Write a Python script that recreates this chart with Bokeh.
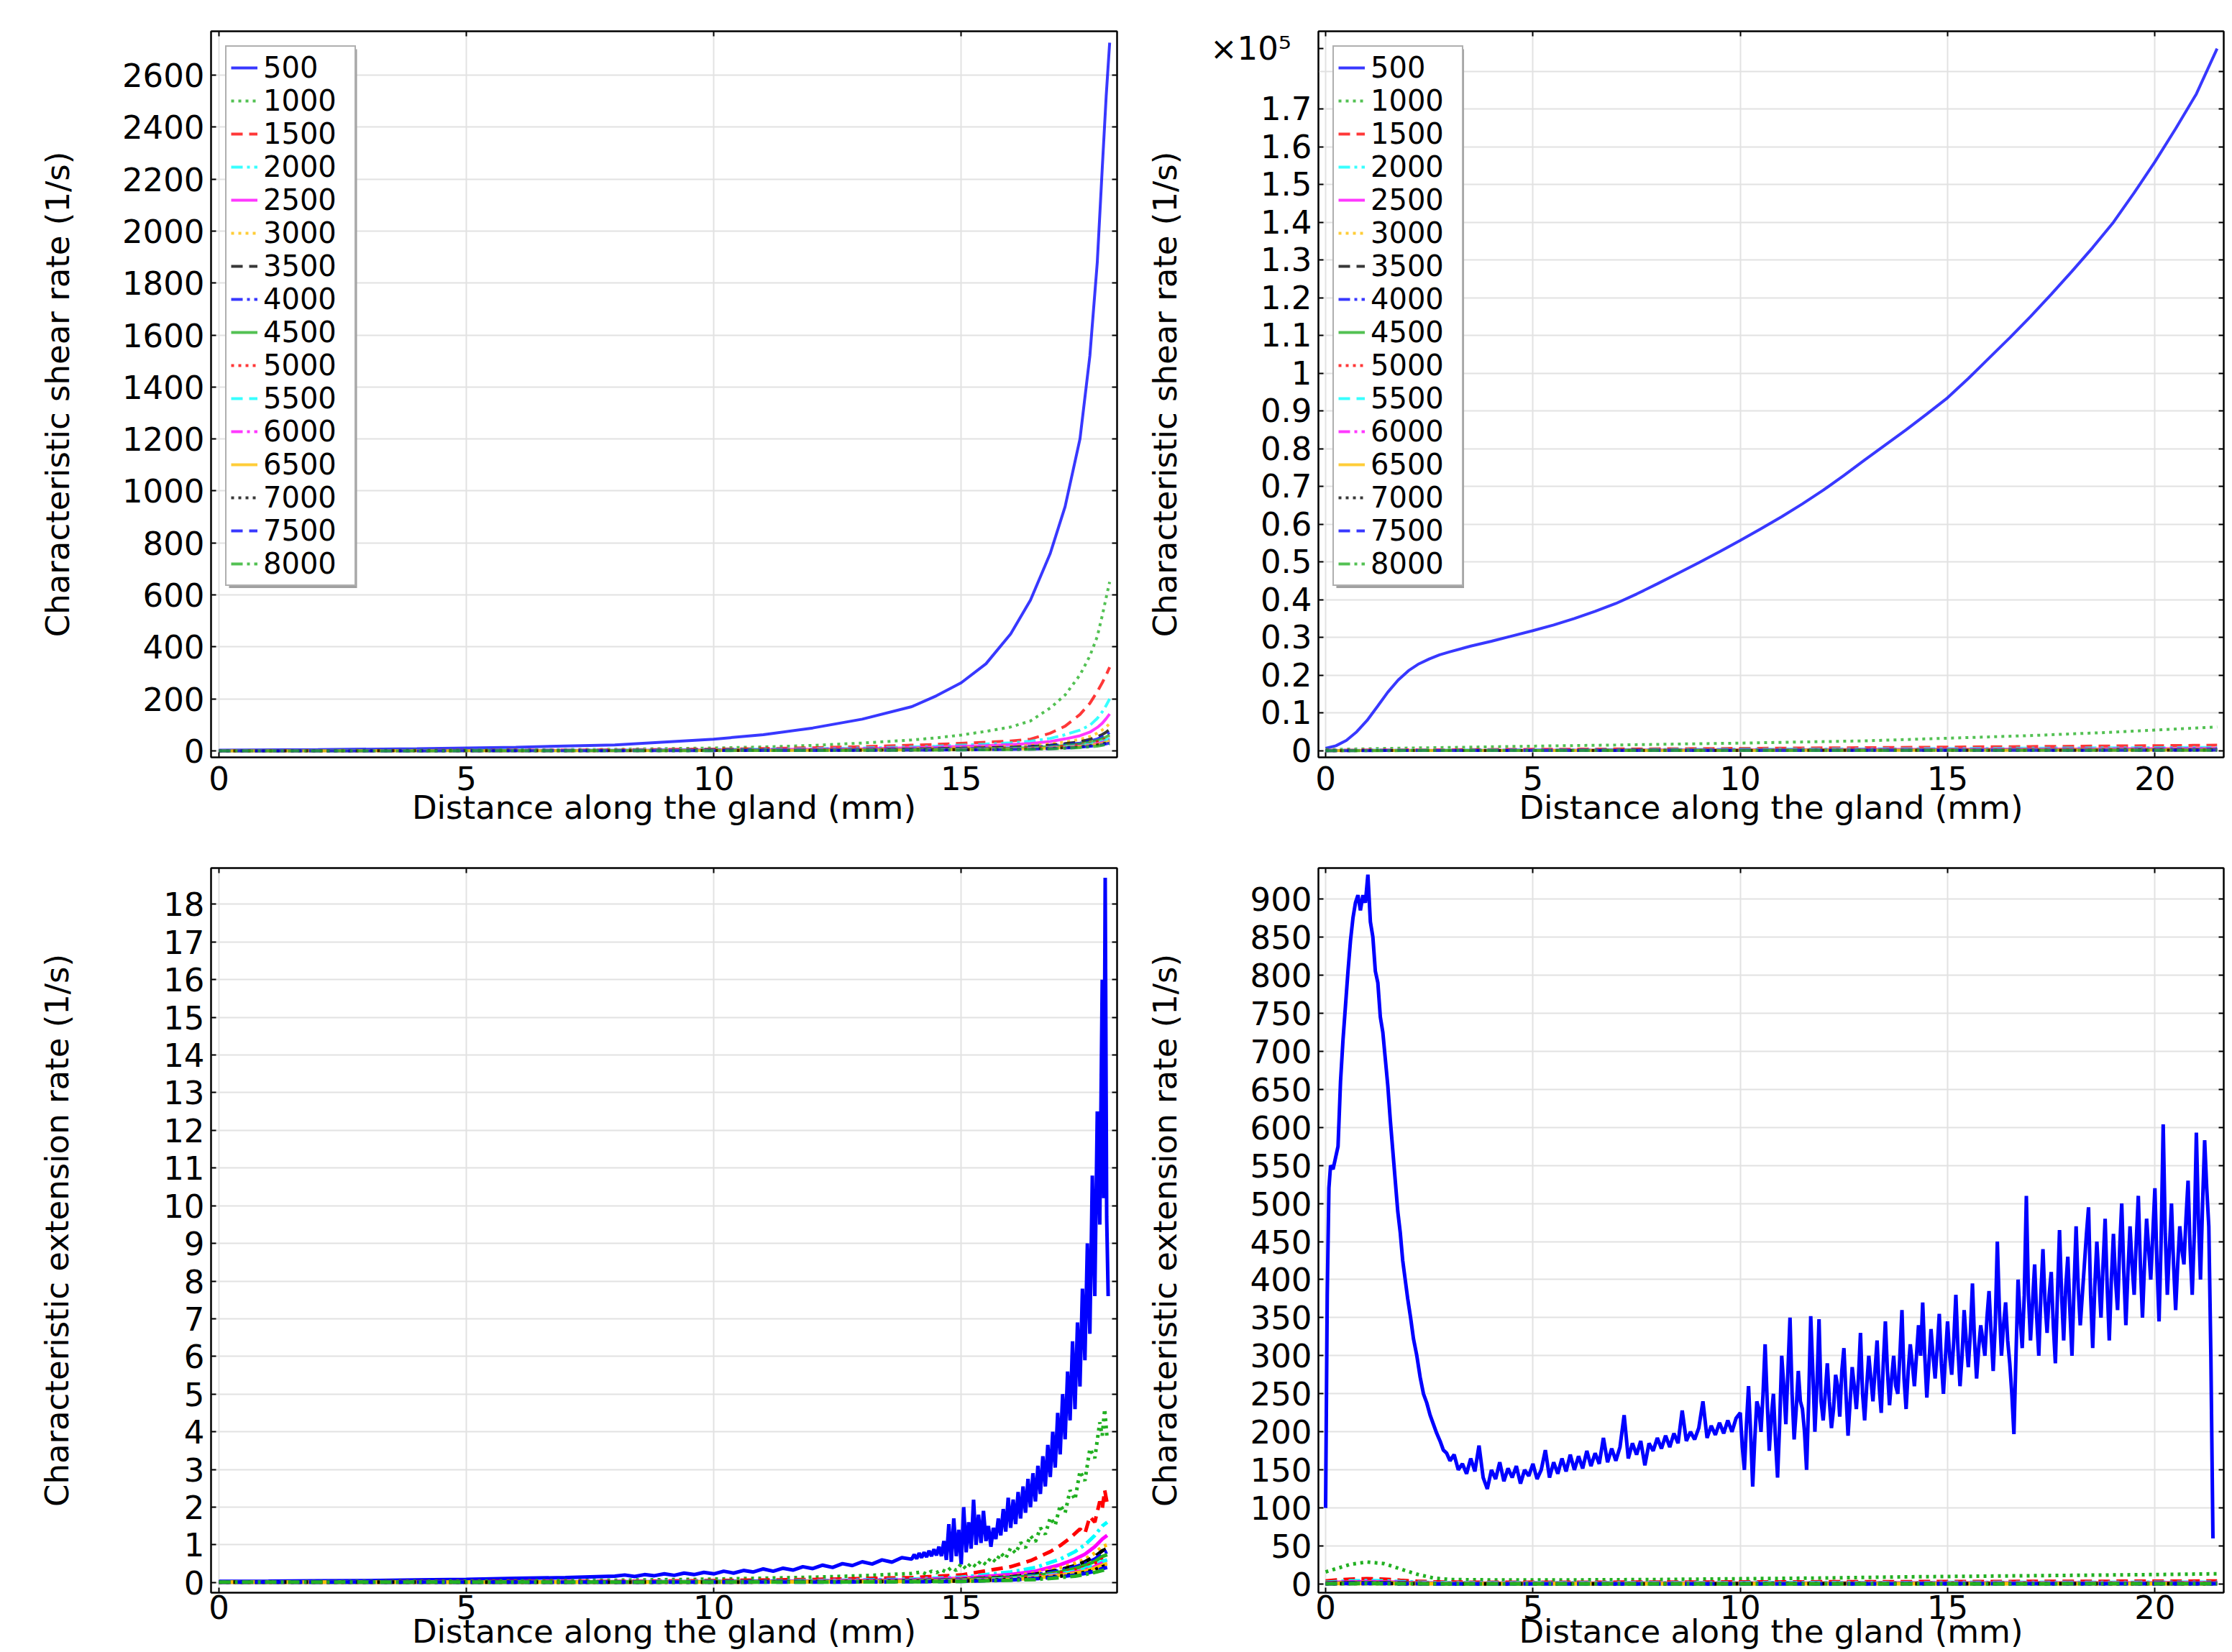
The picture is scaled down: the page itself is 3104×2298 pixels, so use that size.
from bokeh.plotting import figure
from bokeh.models import FixedTicker, LinearAxis, Range1d, Legend, LegendItem, BoxAnnotation
from bokeh.layouts import column, row
from bokeh.embed import file_html
from bokeh.resources import INLINE

FONT = "DejaVu Sans"

# ---------------- series names / tick labels ----------------
FLOWS = ["500", "1000", "1500", "2000", "2500", "3000", "3500", "4000",
         "4500", "5000", "5500", "6000", "6500", "7000", "7500", "8000"]
X_LABEL = "Distance along the gland (mm)"
SHEAR_LABEL = "Characteristic shear rate (1/s)"
EXT_LABEL = "Characteristic extension rate (1/s)"
X_TICKS_L = [0, 5, 10, 15]
X_TICKS_R = [0, 5, 10, 15, 20]
TL_Y_TICKS = [0, 200, 400, 600, 800, 1000, 1200, 1400, 1600, 1800, 2000, 2200, 2400, 2600]
TR_Y_TICKS = [0, 10000, 20000, 30000, 40000, 50000, 60000, 70000, 80000, 90000, 100000,
              110000, 120000, 130000, 140000, 150000, 160000, 170000, 180000]
TR_Y_LABELS = ["0", "0.1", "0.2", "0.3", "0.4", "0.5", "0.6", "0.7", "0.8", "0.9", "1",
               "1.1", "1.2", "1.3", "1.4", "1.5", "1.6", "1.7"]
TR_EXP_AT = 186000
TR_EXP_TEXT = "\u00d710\u2075\u00a0\u00a0"
BL_Y_TICKS = list(range(0, 19))
BR_Y_TICKS = [0, 50, 100, 150, 200, 250, 300, 350, 400, 450, 500, 550, 600, 650, 700, 750, 800, 850, 900]

# ---------------- top-left: shear rate, gland 1 ----------------
TL_X = [0, 2, 4, 6, 8, 10, 11, 12, 13, 14, 14.5, 15, 15.5, 16, 16.4, 16.8, 17.1, 17.4, 17.6, 17.75, 17.85, 17.93, 18.0]
TL_500 = [3, 5, 8, 14, 23, 45, 62, 88, 122, 170, 212, 262, 335, 450, 580, 760, 940, 1200, 1520, 1880, 2240, 2520, 2725]
TL_1000 = [1, 1.5, 2.5, 4, 6, 11, 15, 21, 30, 42, 50, 61, 75, 92, 115, 165, 215, 292, 365, 440, 520, 590, 650]
TL_1500 = [0.5, 1, 1.5, 2.5, 4, 7, 9, 12, 16, 22, 25, 29, 33, 38, 45, 68, 95, 140, 183, 228, 262, 292, 322]
TL_2000 = [0.5, 0.8, 1.2, 2, 3, 5, 6.5, 8.5, 11, 15, 18, 22, 26, 31, 37, 48, 62, 80, 98, 125, 150, 175, 200]
TL_2500 = [0.4, 0.6, 1, 1.5, 2.3, 4, 5, 6.5, 8.5, 11.5, 14, 17, 20, 24, 28, 36, 46, 58, 72, 90, 106, 124, 142]
TL_3000 = [0.3, 0.5, 0.8, 1.2, 1.8, 3, 4, 5, 6.5, 9, 10.5, 12.5, 15, 18, 21, 27, 34, 44, 55, 68, 80, 92, 105]
TL_3500 = [0.3, 0.4, 0.6, 1, 1.5, 2.5, 3.2, 4, 5.2, 7, 8.5, 10, 12, 14, 17, 22, 28, 35, 44, 54, 63, 72, 82]
TL_4000 = [0.2, 0.4, 0.5, 0.8, 1.3, 2.1, 2.7, 3.4, 4.4, 6, 7.2, 8.5, 10, 12, 14.5, 19, 24, 30, 38, 46, 54, 62, 70]
TL_4500 = [0.2, 0.3, 0.5, 0.7, 1.1, 1.8, 2.3, 3, 3.8, 5.2, 6.2, 7.3, 8.6, 10.3, 12.5, 16.5, 21, 26, 33, 40, 47, 54, 61]
TL_5000 = [0.2, 0.3, 0.4, 0.6, 1, 1.6, 2, 2.6, 3.3, 4.5, 5.4, 6.4, 7.6, 9, 11, 14.5, 18.5, 23, 29, 35, 41, 47, 53]
TL_5500 = [0.1, 0.2, 0.4, 0.6, 0.9, 1.4, 1.8, 2.3, 3, 4, 4.8, 5.7, 6.7, 8, 9.8, 13, 16.5, 20.5, 26, 31, 36, 42, 47]
TL_6000 = [0.1, 0.2, 0.3, 0.5, 0.8, 1.3, 1.6, 2.1, 2.7, 3.6, 4.3, 5.1, 6, 7.2, 8.8, 11.6, 14.8, 18.5, 23, 28, 33, 37, 42]
TL_6500 = [0.1, 0.2, 0.3, 0.5, 0.7, 1.1, 1.4, 1.9, 2.4, 3.2, 3.9, 4.6, 5.4, 6.5, 7.9, 10.4, 13.3, 16.6, 21, 25, 29, 33, 38]
TL_7000 = [0.1, 0.2, 0.3, 0.4, 0.7, 1, 1.3, 1.7, 2.2, 2.9, 3.5, 4.1, 4.9, 5.9, 7.1, 9.4, 12, 15, 19, 22.5, 26, 30, 34]
TL_7500 = [0.1, 0.1, 0.2, 0.4, 0.6, 0.9, 1.2, 1.5, 2, 2.6, 3.1, 3.7, 4.4, 5.3, 6.4, 8.5, 10.8, 13.5, 17, 20, 23.5, 27, 30]
TL_8000 = [0.1, 0.1, 0.2, 0.3, 0.5, 0.8, 1.1, 1.4, 1.8, 2.4, 2.8, 3.4, 4, 4.8, 5.8, 7.7, 9.8, 12.2, 15.4, 18, 21, 24.5, 27]

# ---------------- top-right: shear rate, gland 2 (1/s) ----------------
TR_X = [0, 0.25, 0.5, 0.75, 1.0, 1.25, 1.5, 1.75, 2.0, 2.25, 2.5, 2.75, 3.0, 3.5, 4.0, 4.5, 5.0, 5.5,
        6.0, 6.5, 7.0, 7.5, 8.0, 8.5, 9.0, 9.5, 10.0, 10.5, 11.0, 11.5, 12.0, 12.5, 13.0, 13.5, 14.0,
        14.5, 15.0, 15.5, 16.0, 16.5, 17.0, 17.5, 18.0, 18.5, 19.0, 19.5, 20.0, 20.5, 21.0, 21.5]
TR_500 = [600, 1300, 2700, 5000, 8000, 11700, 15500, 18700, 21200, 23000, 24300, 25400, 26200, 27700,
          29000, 30400, 31800, 33300, 35000, 36900, 39000, 41500, 44200, 47000, 49800, 52700, 55700,
          58800, 62000, 65400, 69000, 72900, 77000, 81000, 85000, 89200, 93500, 98600, 104000, 109400,
          115000, 120900, 127000, 133300, 140000, 147800, 156000, 164800, 174000, 186000]
TR_XS = [0, 1, 2, 3, 5, 7, 10, 13, 15, 17, 19, 21.5]
TR_1000 = [300, 500, 700, 850, 1200, 1500, 2000, 2600, 3300, 4000, 4900, 6300]
TR_1500 = [100, 180, 220, 250, 350, 450, 600, 800, 950, 1100, 1250, 1450]
TR_2000 = [60, 110, 130, 150, 210, 270, 360, 480, 570, 660, 750, 870]
TR_2500 = [40, 75, 90, 100, 140, 180, 240, 320, 380, 440, 500, 580]
TR_3000 = [30, 55, 65, 75, 105, 135, 180, 240, 285, 330, 375, 435]
TR_3500 = [25, 45, 50, 60, 85, 110, 145, 190, 230, 265, 300, 350]
TR_4000 = [20, 35, 42, 50, 70, 90, 120, 160, 190, 220, 250, 290]
TR_4500 = [18, 30, 36, 42, 60, 76, 100, 135, 160, 185, 210, 245]
TR_5000 = [16, 27, 32, 37, 52, 66, 88, 117, 139, 161, 183, 213]
TR_5500 = [14, 24, 28, 33, 46, 58, 78, 103, 122, 141, 161, 187]
TR_6000 = [12, 21, 25, 29, 41, 52, 69, 91, 108, 125, 142, 166]
TR_6500 = [11, 19, 22, 26, 36, 46, 61, 81, 96, 111, 127, 148]
TR_7000 = [10, 17, 20, 23, 32, 41, 55, 72, 86, 99, 113, 132]
TR_7500 = [9, 15, 18, 21, 29, 37, 49, 65, 77, 89, 102, 119]
TR_8000 = [8, 14, 16, 19, 26, 33, 44, 58, 70, 80, 92, 107]

# ---------------- bottom-left: extension rate, gland 1 ----------------
BL_X_500 = [0, 1, 2, 3, 4, 5, 6, 7, 8,
            8.2, 8.4, 8.6, 8.8, 9.0, 9.2, 9.4, 9.6, 9.8, 10.0, 10.2, 10.4, 10.6, 10.8, 11.0, 11.2,
            11.4, 11.6, 11.8, 12.0, 12.2, 12.4, 12.6, 12.8, 13.0, 13.2, 13.4, 13.6, 13.8,
            14.00, 14.05, 14.10, 14.15, 14.20, 14.25, 14.30, 14.35, 14.40, 14.45, 14.50, 14.55,
            14.60, 14.65, 14.70, 14.75, 14.80, 14.85, 14.90, 14.95, 15.00, 15.05, 15.10, 15.15,
            15.20, 15.25, 15.30, 15.35, 15.40, 15.45, 15.50, 15.55, 15.60, 15.65, 15.70, 15.75,
            15.80, 15.85, 15.90, 15.95, 16.00, 16.05, 16.10, 16.15, 16.20, 16.25, 16.30, 16.35,
            16.40, 16.45, 16.50, 16.55, 16.60, 16.65, 16.70, 16.75, 16.80, 16.85, 16.90, 16.95,
            17.00, 17.05, 17.10, 17.15, 17.20, 17.25, 17.30, 17.35, 17.40, 17.45, 17.50, 17.55,
            17.60, 17.65, 17.70, 17.75, 17.80, 17.85, 17.88, 17.91, 17.94, 17.97]
BL_500 = [0.03, 0.035, 0.045, 0.05, 0.07, 0.085, 0.11, 0.13, 0.17,
          0.20, 0.16, 0.21, 0.18, 0.23, 0.19, 0.25, 0.21, 0.27, 0.23, 0.30, 0.25, 0.32, 0.28, 0.36, 0.30,
          0.38, 0.33, 0.42, 0.37, 0.46, 0.40, 0.50, 0.45, 0.55, 0.49, 0.60, 0.54, 0.66,
          0.62, 0.74, 0.63, 0.78, 0.66, 0.80, 0.68, 0.84, 0.70, 0.88, 0.72, 0.95,
          0.70, 1.10, 0.60, 1.55, 0.55, 1.70, 0.70, 1.40, 0.48, 2.00, 0.80, 1.60,
          0.90, 2.20, 1.00, 1.80, 1.05, 1.90, 1.10, 1.50, 0.95, 1.45, 1.15, 1.70,
          1.25, 1.95, 1.35, 2.25, 1.45, 2.20, 1.55, 2.40, 1.70, 2.55, 1.85, 2.75,
          2.00, 2.90, 2.15, 3.10, 2.35, 3.35, 2.55, 3.65, 2.80, 4.00, 3.05, 4.50,
          3.40, 5.00, 3.80, 5.60, 4.30, 6.40, 4.60, 6.90, 5.20, 7.80, 5.90, 9.00,
          6.60, 10.80, 7.60, 12.50, 9.50, 16.00, 10.20, 18.70, 9.70, 7.60]
BL_X_1000 = [0, 2, 4, 6, 8, 10, 12, 13, 14, 14.2, 14.3, 14.4, 14.5, 14.6, 14.7, 14.8, 14.9, 15.0,
             15.1, 15.2, 15.3, 15.4, 15.5, 15.6, 15.7, 15.8, 15.9, 16.0, 16.1, 16.2, 16.3, 16.4,
             16.5, 16.6, 16.7, 16.8, 16.9, 17.0, 17.1, 17.2, 17.3, 17.4, 17.5, 17.6, 17.7, 17.8,
             17.85, 17.9, 17.95]
BL_1000 = [0.01, 0.02, 0.03, 0.04, 0.06, 0.09, 0.14, 0.18, 0.24, 0.28, 0.22, 0.30, 0.26, 0.34, 0.28,
           0.40, 0.32, 0.50, 0.36, 0.52, 0.42, 0.58, 0.48, 0.66, 0.55, 0.78, 0.64, 0.92, 0.78, 1.06,
           0.92, 1.24, 1.08, 1.45, 1.28, 1.72, 1.52, 2.05, 1.85, 2.45, 2.20, 2.95, 2.70, 3.55, 3.30,
           4.25, 3.90, 4.60, 3.80]
BL_X_1500 = [0, 4, 8, 10, 12, 14, 15, 16, 16.2, 16.4, 16.6, 16.8, 17.0, 17.2, 17.4, 17.5, 17.6,
             17.7, 17.8, 17.85, 17.9, 17.95]
BL_1500 = [0.01, 0.02, 0.03, 0.05, 0.08, 0.13, 0.20, 0.42, 0.50, 0.58, 0.70, 0.82, 0.98, 1.18,
           1.42, 1.30, 1.75, 1.60, 2.15, 1.95, 2.45, 2.10]
BL_XS = [0, 4, 8, 10, 12, 14, 15, 16, 16.5, 17, 17.3, 17.5, 17.7, 17.85, 17.95]
BL_2000 = [0.01, 0.01, 0.02, 0.03, 0.05, 0.09, 0.14, 0.28, 0.40, 0.62, 0.82, 1.00, 1.25, 1.50, 1.60]
BL_2500 = [0.01, 0.01, 0.02, 0.02, 0.04, 0.07, 0.11, 0.21, 0.30, 0.47, 0.62, 0.75, 0.95, 1.15, 1.25]
BL_3000 = [0.01, 0.01, 0.01, 0.02, 0.03, 0.06, 0.09, 0.17, 0.25, 0.39, 0.51, 0.62, 0.78, 0.95, 1.00]
BL_3500 = [0.01, 0.01, 0.01, 0.02, 0.03, 0.05, 0.08, 0.15, 0.22, 0.34, 0.45, 0.55, 0.69, 0.84, 0.90]
BL_4000 = [0.01, 0.01, 0.01, 0.02, 0.03, 0.05, 0.07, 0.14, 0.20, 0.31, 0.41, 0.50, 0.62, 0.76, 0.82]
BL_4500 = [0.01, 0.01, 0.01, 0.02, 0.02, 0.04, 0.07, 0.13, 0.18, 0.28, 0.37, 0.45, 0.56, 0.69, 0.74]
BL_5000 = [0.01, 0.01, 0.01, 0.01, 0.02, 0.04, 0.06, 0.11, 0.16, 0.25, 0.33, 0.40, 0.50, 0.61, 0.66]
BL_5500 = [0.01, 0.01, 0.01, 0.01, 0.02, 0.04, 0.05, 0.10, 0.15, 0.23, 0.30, 0.37, 0.46, 0.56, 0.60]
BL_6000 = [0.01, 0.01, 0.01, 0.01, 0.02, 0.03, 0.05, 0.09, 0.13, 0.21, 0.27, 0.33, 0.42, 0.51, 0.55]
BL_6500 = [0.01, 0.01, 0.01, 0.01, 0.02, 0.03, 0.04, 0.08, 0.12, 0.19, 0.25, 0.30, 0.38, 0.46, 0.50]
BL_7000 = [0.01, 0.01, 0.01, 0.01, 0.02, 0.03, 0.04, 0.08, 0.11, 0.17, 0.22, 0.27, 0.34, 0.42, 0.45]
BL_7500 = [0.01, 0.01, 0.01, 0.01, 0.01, 0.02, 0.03, 0.07, 0.10, 0.15, 0.20, 0.24, 0.30, 0.37, 0.40]
BL_8000 = [0.01, 0.01, 0.01, 0.01, 0.01, 0.02, 0.03, 0.06, 0.08, 0.13, 0.17, 0.21, 0.27, 0.32, 0.35]

# ---------------- bottom-right: extension rate, gland 2 ----------------
BR_XA = [0.0, 0.04, 0.08, 0.12, 0.18, 0.24, 0.3, 0.36, 0.42, 0.48, 0.54, 0.6, 0.66, 0.72, 0.78,
         0.84, 0.9, 0.96, 1.02, 1.08, 1.14, 1.2, 1.26, 1.32, 1.38, 1.44, 1.5, 1.56, 1.62, 1.68,
         1.74, 1.8, 1.86, 1.92, 1.98, 2.05, 2.12, 2.2, 2.28, 2.36, 2.44, 2.52, 2.6, 2.68, 2.76,
         2.84, 2.92, 3.0, 3.1, 3.2, 3.3, 3.4]
BR_YA = [100, 380, 520, 550, 545, 560, 575, 660, 715, 760, 805, 845, 875, 895, 905,
         885, 905, 895, 932, 870, 850, 805, 790, 745, 725, 690, 655, 610, 570, 530,
         490, 462, 425, 400, 375, 350, 322, 300, 272, 250, 238, 222, 210, 198, 188,
         176, 172, 162, 170, 150, 158, 145]
BR_XB = [3.5, 3.6, 3.7, 3.8, 3.9, 4.0, 4.1, 4.2, 4.3, 4.4, 4.5, 4.6, 4.7, 4.8, 4.9,
         5.0, 5.1, 5.2, 5.3, 5.4, 5.5, 5.6, 5.7, 5.8, 5.9, 6.0, 6.1, 6.2, 6.3, 6.4, 6.5, 6.6, 6.7, 6.8, 6.9,
         7.0, 7.1, 7.2, 7.3, 7.4, 7.5, 7.6, 7.7, 7.8, 7.9, 8.0, 8.1, 8.2, 8.3, 8.4, 8.5, 8.6, 8.7, 8.8, 8.9,
         9.0, 9.1, 9.2, 9.3, 9.4, 9.5, 9.6, 9.7, 9.8, 9.9]
BR_YB = [165, 148, 182, 140, 125, 150, 138, 160, 135, 152, 140, 155, 132, 150, 142,
         158, 138, 150, 176, 140, 160, 145, 165, 148, 170, 150, 168, 152, 175, 155, 172, 158, 192, 160, 178,
         162, 180, 222, 165, 185, 170, 188, 156, 185, 175, 192, 178, 195, 180, 198, 185, 228, 188, 200, 190,
         205, 240, 192, 208, 196, 212, 198, 215, 200, 218]
BR_XC = [10.00, 10.05, 10.10, 10.15, 10.20, 10.25, 10.30, 10.35, 10.40, 10.45,
         10.50, 10.55, 10.60, 10.65, 10.70, 10.75, 10.80, 10.85, 10.90, 10.95,
         11.00, 11.05, 11.10, 11.15, 11.20, 11.25, 11.30, 11.35, 11.40, 11.45,
         11.50, 11.55, 11.60, 11.65, 11.70, 11.75, 11.80, 11.85, 11.90, 11.95,
         12.00, 12.05, 12.10, 12.15, 12.20, 12.25, 12.30, 12.35, 12.40, 12.45,
         12.50, 12.55, 12.60, 12.65, 12.70, 12.75, 12.80, 12.85, 12.90, 12.95,
         13.00, 13.05, 13.10, 13.15, 13.20, 13.25, 13.30, 13.35, 13.40, 13.45,
         13.50, 13.55, 13.60, 13.65, 13.70, 13.75, 13.80, 13.85, 13.90, 13.95,
         14.00, 14.05, 14.10, 14.15, 14.20, 14.25, 14.30, 14.35, 14.40, 14.45,
         14.50, 14.55, 14.60, 14.65, 14.70, 14.75, 14.80, 14.85, 14.90, 14.95,
         15.00, 15.05, 15.10, 15.15, 15.20, 15.25, 15.30, 15.35, 15.40, 15.45,
         15.50, 15.55, 15.60, 15.65, 15.70, 15.75, 15.80, 15.85, 15.90, 15.95,
         16.00, 16.05, 16.10, 16.15, 16.20, 16.25, 16.30, 16.35, 16.40, 16.45,
         16.50, 16.55, 16.60, 16.65, 16.70, 16.75, 16.80, 16.85, 16.90, 16.95,
         17.00, 17.05, 17.10, 17.15, 17.20, 17.25, 17.30, 17.35, 17.40, 17.45,
         17.50, 17.55, 17.60, 17.65, 17.70, 17.75, 17.80, 17.85, 17.90, 17.95,
         18.00, 18.05, 18.10, 18.15, 18.20, 18.25, 18.30, 18.35, 18.40, 18.45,
         18.50, 18.55, 18.60, 18.65, 18.70, 18.75, 18.80, 18.85, 18.90, 18.95,
         19.00, 19.05, 19.10, 19.15, 19.20, 19.25, 19.30, 19.35, 19.40, 19.45,
         19.50, 19.55, 19.60, 19.65, 19.70, 19.75, 19.80, 19.85, 19.90, 19.95,
         20.00, 20.05, 20.10, 20.15, 20.20, 20.25, 20.30, 20.35, 20.40, 20.45,
         20.50, 20.55, 20.60, 20.65, 20.70, 20.75, 20.80, 20.85, 20.90, 20.95,
         21.00, 21.05, 21.10, 21.15, 21.20, 21.25, 21.30, 21.35, 21.40]
BR_YC = [225, 180, 150, 210, 260, 200, 128, 190, 240, 230, 200, 250, 315, 240, 175, 220, 250, 190, 140, 210,
         300, 260, 210, 280, 350, 250, 190, 230, 280, 240, 230, 200, 150, 240, 352, 280, 200, 260, 348, 240,
         215, 250, 290, 240, 205, 230, 275, 260, 220, 280, 310, 250, 195, 240, 285, 260, 230, 270, 330, 250,
         215, 260, 300, 270, 240, 280, 320, 260, 225, 290, 345, 280, 235, 270, 300, 260, 250, 300, 360, 270,
         230, 280, 315, 290, 260, 300, 340, 300, 370, 300, 245, 290, 335, 300, 270, 310, 355, 290, 250, 300,
         345, 300, 275, 320, 380, 310, 260, 300, 360, 320, 285, 330, 395, 320, 270, 310, 340, 320, 300, 350,
         385, 330, 280, 340, 450, 360, 300, 340, 370, 320, 290, 250, 197, 300, 400, 350, 310, 380, 510, 380,
         320, 370, 420, 350, 300, 380, 440, 370, 330, 380, 410, 340, 290, 380, 465, 380, 320, 390, 430, 360,
         300, 390, 470, 390, 340, 380, 420, 460, 495, 380, 310, 390, 450, 400, 350, 420, 480, 390, 320, 400,
         460, 400, 360, 440, 500, 410, 340, 410, 470, 420, 380, 450, 510, 420, 350, 420, 480, 440, 400, 460,
         520, 420, 345, 450, 604, 460, 380, 440, 500, 420, 360, 420, 470, 440, 420, 480, 530, 440, 380, 460,
         593, 480, 400, 500, 583, 520, 470, 300, 60]
BR_XS = [0, 0.3, 0.6, 1.0, 1.4, 1.8, 2.2, 2.6, 3.0, 4, 6, 8, 10, 12, 14, 16, 18, 20, 21.5]
BR_1000 = [16, 21, 26, 29, 27, 20, 13, 8, 6, 5.5, 5.5, 6, 7, 8, 9.5, 10.5, 11.5, 12.5, 13.5]
BR_1500 = [4, 5.5, 6.5, 7, 6.5, 5, 3.8, 3, 2.6, 2.4, 2.4, 2.6, 2.8, 3.0, 3.2, 3.4, 3.6, 3.8, 4.0]
BR_2000 = [2.5, 3.5, 4.2, 4.5, 4.2, 3.3, 2.5, 2.0, 1.7, 1.6, 1.6, 1.7, 1.8, 1.9, 2.0, 2.1, 2.2, 2.3, 2.4]
BR_2500 = [1.8, 2.4, 2.9, 3.1, 2.9, 2.3, 1.8, 1.4, 1.2, 1.1, 1.1, 1.2, 1.3, 1.3, 1.4, 1.5, 1.5, 1.6, 1.7]
BR_3000 = [1.4, 1.9, 2.2, 2.4, 2.2, 1.8, 1.4, 1.1, 1.0, 0.9, 0.9, 1.0, 1.0, 1.1, 1.1, 1.2, 1.2, 1.3, 1.3]
BR_3500 = [1.2, 1.6, 1.8, 2.0, 1.8, 1.5, 1.2, 0.9, 0.8, 0.8, 0.8, 0.8, 0.9, 0.9, 0.9, 1.0, 1.0, 1.1, 1.1]
BR_4000 = [1.0, 1.3, 1.5, 1.7, 1.5, 1.3, 1.0, 0.8, 0.7, 0.7, 0.7, 0.7, 0.7, 0.8, 0.8, 0.8, 0.9, 0.9, 0.9]
BR_4500 = [0.9, 1.1, 1.3, 1.4, 1.3, 1.1, 0.9, 0.7, 0.6, 0.6, 0.6, 0.6, 0.6, 0.7, 0.7, 0.7, 0.8, 0.8, 0.8]
BR_5000 = [0.8, 1.0, 1.1, 1.2, 1.1, 1.0, 0.8, 0.6, 0.5, 0.5, 0.5, 0.5, 0.6, 0.6, 0.6, 0.6, 0.7, 0.7, 0.7]
BR_5500 = [0.7, 0.9, 1.0, 1.1, 1.0, 0.9, 0.7, 0.5, 0.5, 0.4, 0.4, 0.5, 0.5, 0.5, 0.5, 0.6, 0.6, 0.6, 0.6]
BR_6000 = [0.6, 0.8, 0.9, 1.0, 0.9, 0.8, 0.6, 0.5, 0.4, 0.4, 0.4, 0.4, 0.4, 0.5, 0.5, 0.5, 0.5, 0.5, 0.6]
BR_6500 = [0.6, 0.7, 0.8, 0.9, 0.8, 0.7, 0.5, 0.4, 0.4, 0.4, 0.4, 0.4, 0.4, 0.4, 0.4, 0.5, 0.5, 0.5, 0.5]
BR_7000 = [0.5, 0.6, 0.7, 0.8, 0.7, 0.6, 0.5, 0.4, 0.3, 0.3, 0.3, 0.3, 0.4, 0.4, 0.4, 0.4, 0.4, 0.4, 0.5]
BR_7500 = [0.5, 0.6, 0.7, 0.7, 0.7, 0.6, 0.4, 0.3, 0.3, 0.3, 0.3, 0.3, 0.3, 0.3, 0.4, 0.4, 0.4, 0.4, 0.4]
BR_8000 = [0.4, 0.5, 0.6, 0.7, 0.6, 0.5, 0.4, 0.3, 0.3, 0.3, 0.3, 0.3, 0.3, 0.3, 0.3, 0.3, 0.4, 0.4, 0.4]

# ---------------- styles ----------------
COLORS = ["#0000ff", "#22b022", "#ff0000", "#00ffff", "#ff00ff", "#ffbf00", "#000000", "#0000ff",
          "#22b022", "#ff0000", "#00ffff", "#ff00ff", "#ffbf00", "#000000", "#0000ff", "#22b022"]
DASHES = ["solid", "4 6", "16 9", "16 6 4 6"] * 4
TICK_FONT = "45px"
LABEL_FONT = "45px"
LEG_FONT = "40px"
LEG_MARGIN, LEG_PAD, LEG_LABEL_W, SHADOW = 20, 6, 121, 5
LEG_W = 2 * LEG_PAD + 37 + 8 + LEG_LABEL_W
LEG_H = 2 * LEG_PAD + 16 * 46.1


def style_axis(ax, show_labels, standoff):
    ax.axis_line_color = "black"
    ax.axis_line_width = 2
    ax.major_tick_in = 7
    ax.major_tick_out = 0
    ax.major_tick_line_color = "black"
    ax.major_tick_line_width = 2
    ax.minor_tick_line_color = None
    ax.major_label_text_font = FONT
    ax.major_label_standoff = standoff
    if show_labels:
        ax.major_label_text_font_size = TICK_FONT
        ax.major_label_text_color = "black"
    else:
        ax.major_label_text_font_size = "1px"
        ax.major_label_text_color = None
    ax.axis_label_text_font = FONT
    ax.axis_label_text_font_size = LABEL_FONT
    ax.axis_label_text_font_style = "normal"
    ax.axis_label_text_color = "black"


def make_fig(w, h, bl, br, bt, bb, xr, yr, xt, yt, xlab, ylab, xtick_off, xlab_off, ylab_off,
             ylab_ticks=None, ylab_overrides=None):
    p = figure(width=w, height=h, x_range=Range1d(*xr), y_range=Range1d(*yr),
               output_backend="svg", toolbar_location=None,
               min_border_left=bl, min_border_right=br, min_border_top=bt, min_border_bottom=bb)
    p.outline_line_color = "black"
    p.outline_line_width = 2
    xtk = FixedTicker(ticks=xt)
    ytk = FixedTicker(ticks=yt)
    p.xaxis.ticker = xtk
    p.yaxis.ticker = FixedTicker(ticks=ylab_ticks if ylab_ticks is not None else yt)
    p.xgrid.ticker = xtk
    p.ygrid.ticker = ytk
    style_axis(p.xaxis[0], True, xtick_off)
    style_axis(p.yaxis[0], True, 9)
    if ylab_overrides is not None:
        p.yaxis[0].major_label_overrides = ylab_overrides
    p.xaxis.axis_label = xlab
    p.xaxis.axis_label_standoff = xlab_off
    p.yaxis.axis_label = ylab
    p.yaxis.axis_label_standoff = ylab_off
    top = LinearAxis(ticker=FixedTicker(ticks=xt))
    right = LinearAxis(ticker=FixedTicker(ticks=yt))
    style_axis(top, False, 0)
    style_axis(right, False, 0)
    p.add_layout(top, "above")
    p.add_layout(right, "right")
    for g in (p.xgrid[0], p.ygrid[0]):
        g.grid_line_color = "#e2e2e2"
        g.grid_line_width = 2
    return p


def add_series(p, xs_list, ys_list, alpha, width):
    rends = []
    for i, (xs, ys) in enumerate(zip(xs_list, ys_list)):
        r = p.line(list(xs), list(ys), line_color=COLORS[i], line_dash=DASHES[i],
                   line_width=width, line_alpha=alpha)
        rends.append(r)
    return rends


def add_legend(p, rends, xr, yr, fw, fh):
    # drop shadow behind the legend box (pixel offsets converted to data units)
    sx = (xr[1] - xr[0]) / fw
    sy = (yr[1] - yr[0]) / fh
    p.add_layout(BoxAnnotation(
        left=xr[0] + (LEG_MARGIN + SHADOW) * sx, right=xr[0] + (LEG_MARGIN + LEG_W + SHADOW) * sx,
        top=yr[1] - (LEG_MARGIN + SHADOW) * sy, bottom=yr[1] - (LEG_MARGIN + LEG_H + SHADOW) * sy,
        fill_color="#a0a0a0", fill_alpha=1.0, line_color=None))
    items = [LegendItem(label=f, renderers=[r]) for f, r in zip(FLOWS, rends)]
    leg = Legend(items=items, location="top_left", margin=LEG_MARGIN, padding=LEG_PAD, spacing=0,
                 glyph_width=37, glyph_height=20, label_standoff=8, label_width=LEG_LABEL_W,
                 label_text_font=FONT, label_text_font_size=LEG_FONT, label_text_color="black",
                 border_line_color="#606060", border_line_width=2,
                 background_fill_color="white", background_fill_alpha=1.0)
    p.add_layout(leg)


TOP_H, BOT_H = 1165, 1133

# ----- top-left -----
TL_XR, TL_YR = (-0.16, 18.15), (-25, 2769)
tl = make_fig(1590, TOP_H, 293, 37, 43, 112, TL_XR, TL_YR, X_TICKS_L, TL_Y_TICKS,
              X_LABEL, SHEAR_LABEL, 12, -5, 60)
tl_r = add_series(tl, [TL_X] * 16,
                  [TL_500, TL_1000, TL_1500, TL_2000, TL_2500, TL_3000, TL_3500, TL_4000,
                   TL_4500, TL_5000, TL_5500, TL_6000, TL_6500, TL_7000, TL_7500, TL_8000], 0.78, 4)
add_legend(tl, tl_r, TL_XR, TL_YR, 1260, 1010)

# ----- top-right -----
TR_XR, TR_YR = (-0.173, 21.66), (-1770, 190600)
tr_label_ticks = TR_Y_TICKS[:len(TR_Y_LABELS)] + [TR_EXP_AT]
tr_overrides = {t: s for t, s in zip(TR_Y_TICKS, TR_Y_LABELS)}
tr_overrides[TR_EXP_AT] = TR_EXP_TEXT
tr = make_fig(1514, TOP_H, 240, 12, 43, 112, TR_XR, TR_YR, X_TICKS_R, TR_Y_TICKS,
              X_LABEL, SHEAR_LABEL, 12, -5, 33, ylab_ticks=tr_label_ticks, ylab_overrides=tr_overrides)
tr_r = add_series(tr, [TR_X] + [TR_XS] * 15,
                  [TR_500, TR_1000, TR_1500, TR_2000, TR_2500, TR_3000, TR_3500, TR_4000,
                   TR_4500, TR_5000, TR_5500, TR_6000, TR_6500, TR_7000, TR_7500, TR_8000], 0.78, 4)
add_legend(tr, tr_r, TR_XR, TR_YR, 1262, 1010)

# ----- bottom-left -----
bl = make_fig(1590, BOT_H, 293, 37, 42, 83, (-0.16, 18.15), (-0.27, 18.96), X_TICKS_L, BL_Y_TICKS,
              X_LABEL, EXT_LABEL, 3, -12, 118)
add_series(bl, [BL_X_500, BL_X_1000, BL_X_1500] + [BL_XS] * 13,
           [BL_500, BL_1000, BL_1500, BL_2000, BL_2500, BL_3000, BL_3500, BL_4000,
            BL_4500, BL_5000, BL_5500, BL_6000, BL_6500, BL_7000, BL_7500, BL_8000], 1.0, 5)

# ----- bottom-right -----
br = make_fig(1514, BOT_H, 240, 12, 42, 83, (-0.173, 21.66), (-11.3, 940.6), X_TICKS_R, BR_Y_TICKS,
              X_LABEL, EXT_LABEL, 3, -12, 89)
add_series(br, [BR_XA + BR_XB + BR_XC] + [BR_XS] * 15,
           [BR_YA + BR_YB + BR_YC, BR_1000, BR_1500, BR_2000, BR_2500, BR_3000, BR_3500, BR_4000,
            BR_4500, BR_5000, BR_5500, BR_6000, BR_6500, BR_7000, BR_7500, BR_8000], 1.0, 5)

layout = column(row(tl, tr), row(bl, br))
open("out.html", "w").write(file_html(layout, INLINE))
